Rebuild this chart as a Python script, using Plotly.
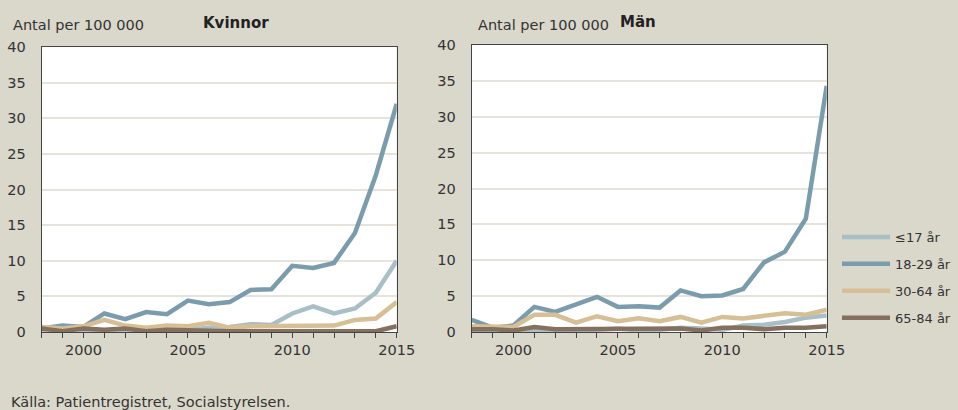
import plotly.graph_objects as go

years = list(range(1998, 2016))
series_names = ["≤17 år", "18-29 år", "30-64 år", "65-84 år"]
colors = ["#A9BFC7", "#7A9CAD", "#D6BF94", "#85705F"]

kvinnor_u17 = [0.3, 0.5, 0.3, 0.2, 0.3, 0.2, 0.2, 0.3, 0.6, 0.7, 1.1, 1.0, 2.6, 3.6, 2.6, 3.3, 5.5, 10.0]
kvinnor_18_29 = [0.5, 0.9, 0.7, 2.6, 1.8, 2.8, 2.5, 4.4, 3.9, 4.2, 5.9, 6.0, 9.3, 9.0, 9.7, 13.9, 22.0, 32.0]
kvinnor_30_64 = [0.7, 0.5, 0.8, 1.7, 0.9, 0.6, 0.9, 0.8, 1.3, 0.6, 0.8, 0.8, 0.9, 0.8, 0.9, 1.7, 1.9, 4.2]
kvinnor_65_84 = [0.5, 0.1, 0.5, 0.3, 0.5, 0.1, 0.3, 0.2, 0.2, 0.1, 0.1, 0.1, 0.0, 0.1, 0.1, 0.1, 0.1, 0.8]

man_u17 = [0.2, 0.2, 0.2, 0.2, 0.2, 0.2, 0.3, 0.5, 0.2, 0.3, 0.6, 0.5, 0.3, 0.9, 1.0, 1.4, 2.0, 2.3]
man_18_29 = [1.7, 0.6, 0.9, 3.5, 2.8, 3.9, 4.9, 3.5, 3.6, 3.4, 5.8, 5.0, 5.1, 6.0, 9.7, 11.2, 15.8, 34.3]
man_30_64 = [0.8, 0.7, 0.7, 2.4, 2.4, 1.3, 2.2, 1.5, 1.9, 1.5, 2.1, 1.3, 2.1, 1.9, 2.2, 2.6, 2.4, 3.1]
man_65_84 = [0.4, 0.4, 0.2, 0.7, 0.4, 0.4, 0.4, 0.5, 0.4, 0.4, 0.5, 0.2, 0.6, 0.6, 0.4, 0.6, 0.6, 0.8]

x_ticks = [2000, 2005, 2010, 2015]
y_ticks = [0, 5, 10, 15, 20, 25, 30, 35, 40]

kvinnor = [kvinnor_u17, kvinnor_18_29, kvinnor_30_64, kvinnor_65_84]
man = [man_u17, man_18_29, man_30_64, man_65_84]

FONT = "DejaVu Sans"
TXT = "#333333"
BG = "#DAD7CB"
FS = 14.5

fig = go.Figure()
for i, name in enumerate(series_names):
    fig.add_trace(go.Scatter(x=years, y=kvinnor[i], mode="lines", name=name,
                             line=dict(color=colors[i], width=4.5),
                             xaxis="x", yaxis="y", showlegend=False))
for i, name in enumerate(series_names):
    fig.add_trace(go.Scatter(x=years, y=man[i], mode="lines", name=name,
                             line=dict(color=colors[i], width=4.5),
                             xaxis="x2", yaxis="y2", showlegend=True,
                             legendgroup=name))

xa = dict(range=[1998, 2015], tickvals=x_ticks, ticks="outside", ticklen=5,
          tickcolor="#444444", showgrid=False, zeroline=False,
          showline=True, linecolor="#444444", linewidth=1, mirror=True,
          minor=dict(dtick=1, tick0=1998, ticks="outside", ticklen=5, tickcolor="#444444", showgrid=False),
          tickfont=dict(family=FONT, size=FS, color=TXT), fixedrange=True)
ya = dict(range=[0, 40], tickvals=y_ticks, showgrid=True, gridcolor="#E6E3DA", gridwidth=1.5,
          zeroline=False, showline=True, linecolor="#444444", linewidth=1, mirror=True,
          ticks="", ticklabelstandoff=12,
          tickfont=dict(family=FONT, size=FS, color=TXT), fixedrange=True)

fig.update_layout(
    width=958, height=410,
    margin=dict(l=0, r=0, t=0, b=0, autoexpand=False),
    paper_bgcolor=BG, plot_bgcolor="white",
    xaxis=dict(xa, domain=[41.7/958, 396.7/958], anchor="y"),
    yaxis=dict(ya, domain=[1-332/410, 1-47/410], anchor="x"),
    xaxis2=dict(xa, domain=[471.7/958, 826.7/958], anchor="y2"),
    yaxis2=dict(ya, domain=[1-332/410, 1-45/410], anchor="x2"),
    legend=dict(x=837/958, y=1-222/410, xanchor="left", yanchor="top",
                bgcolor="rgba(0,0,0,0)", font=dict(family=FONT, size=13, color=TXT),
                tracegroupgap=7, itemwidth=48),
    annotations=[
        dict(text="Antal per 100 000", x=11/958, y=1-25/410, xref="paper", yref="paper",
             xanchor="left", yanchor="middle", showarrow=False,
             font=dict(family=FONT, size=FS, color=TXT)),
        dict(text="<b>Kvinnor</b>", x=236/958, y=1-23/410, xref="paper", yref="paper",
             xanchor="center", yanchor="middle", showarrow=False,
             font=dict(family=FONT, size=15, color="#222222")),
        dict(text="Antal per 100 000", x=476/958, y=1-25/410, xref="paper", yref="paper",
             xanchor="left", yanchor="middle", showarrow=False,
             font=dict(family=FONT, size=FS, color=TXT)),
        dict(text="<b>Män</b>", x=638/958, y=1-22/410, xref="paper", yref="paper",
             xanchor="center", yanchor="middle", showarrow=False,
             font=dict(family=FONT, size=15, color="#222222")),
        dict(text="Källa: Patientregistret, Socialstyrelsen.", x=9/958, y=1-402/410,
             xref="paper", yref="paper", xanchor="left", yanchor="middle", showarrow=False,
             font=dict(family=FONT, size=FS, color=TXT)),
    ],
)

fig.write_html("out.html", config={"displayModeBar": False},
               post_script="document.body.style.margin='0';document.body.style.overflow='hidden';")
